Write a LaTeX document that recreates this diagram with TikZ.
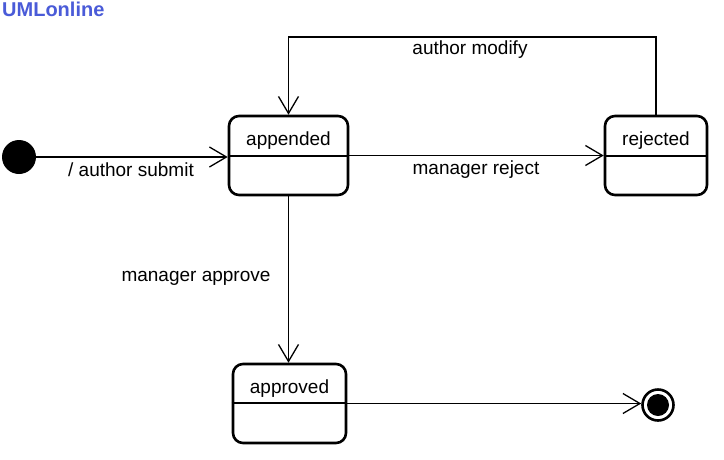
\documentclass[tikz,border=0pt]{standalone}
\usepackage{fontspec}
\setmainfont{Liberation Sans}
\usetikzlibrary{arrows.meta}
\definecolor{logoblue}{HTML}{4A5BD8}
\tikzset{
  state/.style={draw, line width=2.6pt, rounded corners=10pt, inner sep=0pt},
  stname/.style={font=\fontsize{19}{22}\selectfont, inner sep=0pt},
  lbl/.style={font=\fontsize{19}{22}\selectfont, inner sep=0pt},
  arr/.style={line width=1.3pt, -{Straight Barb[length=17pt,width=20pt,line width=1.3pt]}},
  divider/.style={line width=1.3pt}
}
\begin{document}
\begin{tikzpicture}[x=1pt,y=-1pt]
\useasboundingbox[fill=white] (0,0) rectangle (724,459);
\node[anchor=north west, inner sep=0pt, text=logoblue, font=\bfseries\fontsize{20}{22}\selectfont] (logo) at (2,2) {UMLonline};
% initial state
\node[circle, fill=black, minimum size=34pt, inner sep=0pt] (init) at (19,157) {};
% states
\node[state, minimum width=119pt, minimum height=79pt] (app) at (288.5,155.5) {};
\node[stname] (appT) at (288.5,141) {appended};
\draw[divider] (app.west |- 0,156) -- (app.east |- 0,156);
\node[state, minimum width=102pt, minimum height=79pt] (rej) at (656,155.5) {};
\node[stname] (rejT) at (656,141) {rejected};
\draw[divider] (rej.west |- 0,156) -- (rej.east |- 0,156);
\node[state, minimum width=113pt, minimum height=79pt] (appr) at (289.5,403.5) {};
\node[stname] (apprT) at (289.5,389) {approved};
\draw[divider] (appr.west |- 0,403) -- (appr.east |- 0,403);
% final state
\node[circle, draw, line width=2.6pt, minimum size=31pt, inner sep=0pt] (final) at (658,405) {};
\fill (final.center) circle (11pt);
% transitions
\draw[arr] (init.east) -- (init -| app.west);
\node[lbl] (l1) at (131,170) {/ author submit};
\draw[arr] (app.east) -- (rej.west);
\node[lbl] (l2) at (476,170) {manager reject};
\coordinate (top) at (470,37);
\draw[arr] (rej.north) |- (top) -| (app.north);
\node[lbl] (l3) at (470,50) {author modify};
\draw[arr] (app.south) -- (app.south |- appr.north);
\node[lbl] (l4) at (196,278) {manager approve};
\draw[arr] (appr.east) -- (appr.east -| final.west);
\end{tikzpicture}
\end{document}
